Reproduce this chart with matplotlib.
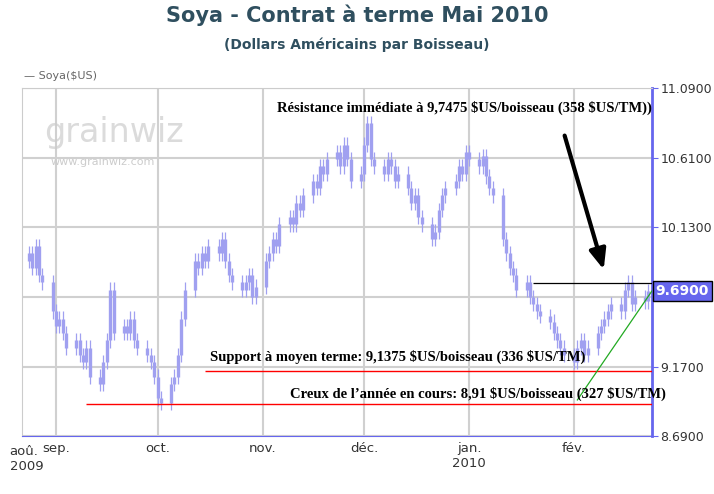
import matplotlib
matplotlib.use("Agg")
import matplotlib.pyplot as plt
import matplotlib.dates as mdates
import numpy as np
import pandas as pd

# daily closes (24 Aug 2009 - 23 Feb 2010)
closes = [
    9.95, 9.85, 10.00, 9.80, 9.75,
    9.55, 9.45, 9.50, 9.40, 9.30,
    9.35, 9.25, 9.20, 9.30, 9.10,
    9.05, 9.20, 9.35, 9.70, 9.40,
    9.45, 9.40, 9.50, 9.35, 9.30,
    9.25, 9.20, 9.10, 8.95, 8.92,
    9.05, 9.10, 9.25, 9.50, 9.70,
    9.90, 9.85, 9.95, 9.90, 10.00,
    9.95, 10.05, 9.90, 9.80, 9.75,
    9.70, 9.75, 9.80, 9.65, 9.72,
    9.90, 9.95, 10.05, 10.00, 10.15,
    10.20, 10.15, 10.30, 10.25, 10.35,
    10.45, 10.40, 10.55, 10.50, 10.60,
    10.65, 10.55, 10.70, 10.60, 10.45,
    10.50, 10.70, 10.85, 10.60, 10.55,
    10.50, 10.60, 10.55, 10.45, 10.50,
    10.40, 10.30, 10.35, 10.20, 10.15,
    10.05, 10.10, 10.25, 10.35, 10.40,
    10.45, 10.55, 10.50, 10.65, 10.60,
    10.55, 10.62, 10.48, 10.40, 10.35,
    10.05, 9.95, 9.85, 9.80, 9.70,
    9.75, 9.65, 9.60, 9.55, 9.52,
    9.48, 9.40, 9.35, 9.30, 9.25,
    9.20, 9.30, 9.35, 9.25, 9.30,
    9.40, 9.45, 9.50, 9.55, 9.60,
    9.55, 9.70, 9.75, 9.60, 9.65,
    9.62, 9.69,
]
first_open = 9.90
dates = pd.bdate_range("2009-08-24", periods=len(closes))
y_ticks = [8.69, 9.17, 9.65, 10.13, 10.61, 11.09]
y_tick_labels = ["8.6900", "9.1700", "9.6500", "10.1300", "10.6100", "11.0900"]
months = ["2009-09-01", "2009-10-01", "2009-11-01", "2009-12-01", "2010-01-01", "2010-02-01"]
month_labels = ["sep.", "oct.", "nov.", "déc.", "jan.\n2010", "fév."]
last_price = 9.69
resistance = 9.7475
support = 9.1375
low_year = 8.91

candle = "#a0a0f0"
closes = np.array(closes)
opens = np.r_[first_open, closes[:-1]]
x = mdates.date2num(dates)

fig = plt.figure(figsize=(7.14, 4.94), dpi=100)
ax = fig.add_axes([0.031, 0.117, 0.882, 0.705])

for xi, o, c in zip(x, opens, closes):
    lo, hi = min(o, c), max(o, c)
    ax.vlines(xi, lo - 0.05, hi + 0.05, color=candle, lw=0.9, zorder=3)
    ax.vlines(xi, lo, max(hi, lo + 0.015), color=candle, lw=2.4, zorder=3)

ax.set_xlim(mdates.date2num(pd.Timestamp("2009-08-22")), mdates.date2num(pd.Timestamp("2010-02-24")))
ax.set_ylim(8.69, 11.09)
ax.yaxis.tick_right()
ax.set_yticks(y_ticks)
ax.set_yticklabels(y_tick_labels, fontsize=9, color="#333333")
ax.set_xticks(mdates.date2num(pd.to_datetime(months)))
ax.set_xticklabels(month_labels, fontsize=9.5, color="#333333", va="top")
ax.tick_params(axis="x", length=0, pad=4)
ax.tick_params(axis="y", length=4, color="#6666ee", pad=2)
ax.grid(True, color="#d0d0d0", lw=1.5)
ax.set_axisbelow(True)
for s in ["top", "left", "bottom"]:
    ax.spines[s].set_color("#cccccc")
ax.spines["right"].set_color("#6666ee")
ax.spines["right"].set_linewidth(2)
ax.spines["bottom"].set_color("#6666ee")
ax.text(-0.02, -0.025, "aoû.\n2009", transform=ax.transAxes, va="top", ha="left", fontsize=9.5, color="#333333")

# annotation lines
x_end = ax.get_xlim()[1]
ax.hlines(resistance, mdates.date2num(pd.Timestamp("2010-01-20")), x_end, color="black", lw=0.9, zorder=4)
ax.hlines(support, mdates.date2num(pd.Timestamp("2009-10-15")), x_end, color="red", lw=1.0, zorder=4)
ax.hlines(low_year, mdates.date2num(pd.Timestamp("2009-09-10")), x_end, color="red", lw=1.0, zorder=4)
ax.plot([mdates.date2num(pd.Timestamp("2010-02-02")), x_end], [low_year + 0.03, last_price], color="#22aa22", lw=0.9, zorder=4)
ax.annotate("", xy=(mdates.date2num(pd.Timestamp("2010-02-10")), 9.82),
            xytext=(mdates.date2num(pd.Timestamp("2010-01-29")), 10.78),
            arrowprops=dict(arrowstyle="-|>,head_width=0.5,head_length=1.2", color="black", lw=3), zorder=5)

tfont = dict(family="Liberation Serif", fontweight="bold", fontsize=10.5, zorder=6)
ax.text(0.405, 0.93, "Résistance immédiate à 9,7475 \\$US/boisseau (358 \\$US/TM))", transform=ax.transAxes, **tfont)
ax.text(0.298, 0.215, "Support à moyen terme: 9,1375 \\$US/boisseau (336 \\$US/TM)", transform=ax.transAxes, **tfont)
ax.text(0.425, 0.11, "Creux de l\u2019année en cours: 8,91 \\$US/boisseau (327 \\$US/TM)", transform=ax.transAxes, **tfont)

ax.text(0.035, 0.845, "grainwiz", transform=ax.transAxes, fontsize=24, color="#cccccc", alpha=0.7, zorder=1)
ax.text(0.045, 0.78, "www.grainwiz.com", transform=ax.transAxes, fontsize=8, color="#cccccc", zorder=1)

ax.text(1.006, (last_price - 8.69) / 2.4, "9.6900", transform=ax.transAxes, va="center", ha="left",
        fontsize=10, fontweight="bold", color="white",
        bbox=dict(boxstyle="square,pad=0.2", fc="#6666ee", ec="black", lw=1), zorder=7)

fig.text(0.034, 0.84, "\u2014 Soya($US)", fontsize=8, color="#666666")
fig.text(0.5, 0.955, "Soya - Contrat à terme Mai 2010", ha="center", fontsize=15, fontweight="bold", color="#2f4f5f")
fig.text(0.5, 0.9, "(Dollars Américains par Boisseau)", ha="center", fontsize=10, fontweight="bold", color="#2f4f5f")

fig.savefig("out.png", dpi=100)
